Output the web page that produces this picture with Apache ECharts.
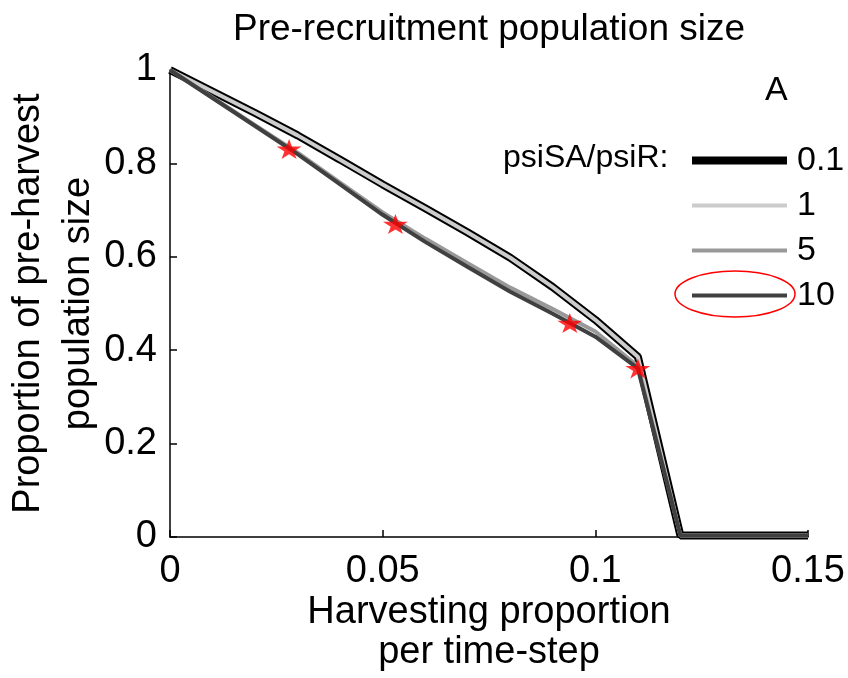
<!DOCTYPE html>
<html>
<head>
<meta charset="utf-8">
<script src="https://cdn.jsdelivr.net/npm/echarts@6/dist/echarts.min.js"></script>
<style>
  html, body { margin: 0; padding: 0; background: #fff; }
  #chart { width: 848px; height: 678px; }
</style>
</head>
<body>
<div id="chart"></div>
<script>
// harvesting proportion per time-step
var harvest = [0, 0.01, 0.02, 0.03, 0.04, 0.05, 0.06, 0.07, 0.08, 0.09, 0.10, 0.11, 0.12, 0.13, 0.14, 0.15];

// proportion of pre-harvest population size, one array per psiSA/psiR ratio
var ratio01 = [1.0, 0.954, 0.908, 0.860, 0.808, 0.755, 0.704, 0.652, 0.598, 0.535, 0.465, 0.386, 0.003, 0.003, 0.003, 0.003];
var ratio1  = [1.0, 0.954, 0.908, 0.860, 0.808, 0.755, 0.704, 0.652, 0.598, 0.535, 0.465, 0.386, 0.003, 0.003, 0.003, 0.003];
var ratio5  = [1.0, 0.941, 0.882, 0.823, 0.759, 0.695, 0.639, 0.586, 0.534, 0.488, 0.440, 0.366, 0.003, 0.003, 0.003, 0.003];
var ratio10 = [1.0, 0.940, 0.880, 0.820, 0.755, 0.690, 0.632, 0.578, 0.525, 0.478, 0.429, 0.361, 0.003, 0.003, 0.003, 0.003];

// red star markers
var starX = [0.028, 0.053, 0.094, 0.110];
var starY = [0.831, 0.670, 0.458, 0.361];

var xTicks = [0, 0.05, 0.1, 0.15];
var yTicks = [0, 0.2, 0.4, 0.6, 0.8, 1];

var FONT = '"Liberation Sans", Arial, sans-serif';

function pairs(xs, ys) {
    return xs.map(function (x, i) { return [x, ys[i]]; });
}

var starPath = 'path://M50,0 L61,35 L98,35 L68,57 L79,91 L50,70 L21,91 L32,57 L2,35 L39,35 Z';

var myChart = echarts.init(document.getElementById('chart'), null, { renderer: 'canvas' });

var option = {
    backgroundColor: '#fff',
    animation: false,
    title: {
        text: 'Pre-recruitment population size',
        left: 484,
        top: 6,
        textAlign: 'center',
        textStyle: { fontFamily: FONT, fontSize: 37, fontWeight: 'normal', color: '#000' }
    },
    grid: { left: 170, right: 40, top: 70, bottom: 141, outerBoundsMode: 'none', containLabel: false },
    legend: {
        data: [
            { name: '0.1', lineStyle: { width: 8 } },
            { name: '1', lineStyle: { width: 4 } },
            { name: '5', lineStyle: { width: 4 } },
            { name: '10', lineStyle: { width: 4 } }
        ],
        orient: 'vertical',
        left: 683,
        top: 133,
        itemWidth: 95,
        itemHeight: 20,
        itemGap: 0,
        itemStyle: { opacity: 0, color: 'rgba(0,0,0,0)', borderWidth: 0 },
        textStyle: { fontFamily: FONT, fontSize: 34, color: '#000', lineHeight: 45, padding: [0, 0, 0, 5] }
    },
    xAxis: {
        type: 'value',
        min: 0,
        max: 0.15,
        interval: 0.05,
        name: 'Harvesting proportion\nper time-step',
        nameLocation: 'middle',
        nameGap: 56,
        nameMoveOverlap: false,
        nameTextStyle: { fontFamily: FONT, fontSize: 38, color: '#000', lineHeight: 40 },
        axisLine: { lineStyle: { color: '#000', width: 1.5 } },
        axisTick: { inside: true, length: 7, lineStyle: { color: '#000', width: 1.5 } },
        axisLabel: {
            fontFamily: FONT, fontSize: 38, color: '#000', margin: 16,
            formatter: function (v) { return String(+v.toFixed(2)); }
        },
        splitLine: { show: false }
    },
    yAxis: {
        type: 'value',
        min: 0,
        max: 1,
        interval: 0.2,
        name: 'Proportion of pre-harvest\npopulation size',
        nameLocation: 'middle',
        nameGap: 66,
        nameMoveOverlap: false,
        nameTextStyle: { fontFamily: FONT, fontSize: 38, color: '#000', lineHeight: 50 },
        axisLine: { lineStyle: { color: '#000', width: 1.5 } },
        axisTick: { inside: true, length: 7, lineStyle: { color: '#000', width: 1.5 } },
        axisLabel: {
            fontFamily: FONT, fontSize: 38, color: '#000', margin: 13,
            formatter: function (v) { return String(+v.toFixed(1)); }
        },
        splitLine: { show: false }
    },
    graphic: [
        {
            type: 'text',
            left: 503,
            top: 142,
            style: { text: 'psiSA/psiR:', font: '32px ' + FONT, fill: '#000' }
        },
        {
            type: 'text',
            left: 765,
            top: 74,
            style: { text: 'A', font: '34px ' + FONT, fill: '#000' }
        },
        {
            type: 'ellipse',
            shape: { cx: 735, cy: 294, rx: 60, ry: 23 },
            style: { fill: 'none', stroke: '#ff0000', lineWidth: 1.5 },
            z: 100
        }
    ],
    series: [
        {
            name: '0.1', type: 'line', data: pairs(harvest, ratio01),
            symbol: 'none', lineStyle: { color: '#000', width: 8 }, itemStyle: { color: '#000' }, z: 2
        },
        {
            name: '1', type: 'line', data: pairs(harvest, ratio1),
            symbol: 'none', lineStyle: { color: '#cccccc', width: 4 }, itemStyle: { color: '#cccccc' }, z: 3
        },
        {
            name: '5', type: 'line', data: pairs(harvest, ratio5),
            symbol: 'none', lineStyle: { color: '#999999', width: 4 }, itemStyle: { color: '#999999' }, z: 4
        },
        {
            name: '10', type: 'line', data: pairs(harvest, ratio10),
            symbol: 'none', lineStyle: { color: '#404040', width: 4 }, itemStyle: { color: '#404040' }, z: 5
        },
        {
            name: 'stars', type: 'scatter', data: pairs(starX, starY),
            symbol: starPath, symbolSize: [25, 20], symbolKeepAspect: false,
            itemStyle: { color: '#ff0000' }, z: 10
        }
    ]
};
myChart.setOption(option);
</script>
</body>
</html>
